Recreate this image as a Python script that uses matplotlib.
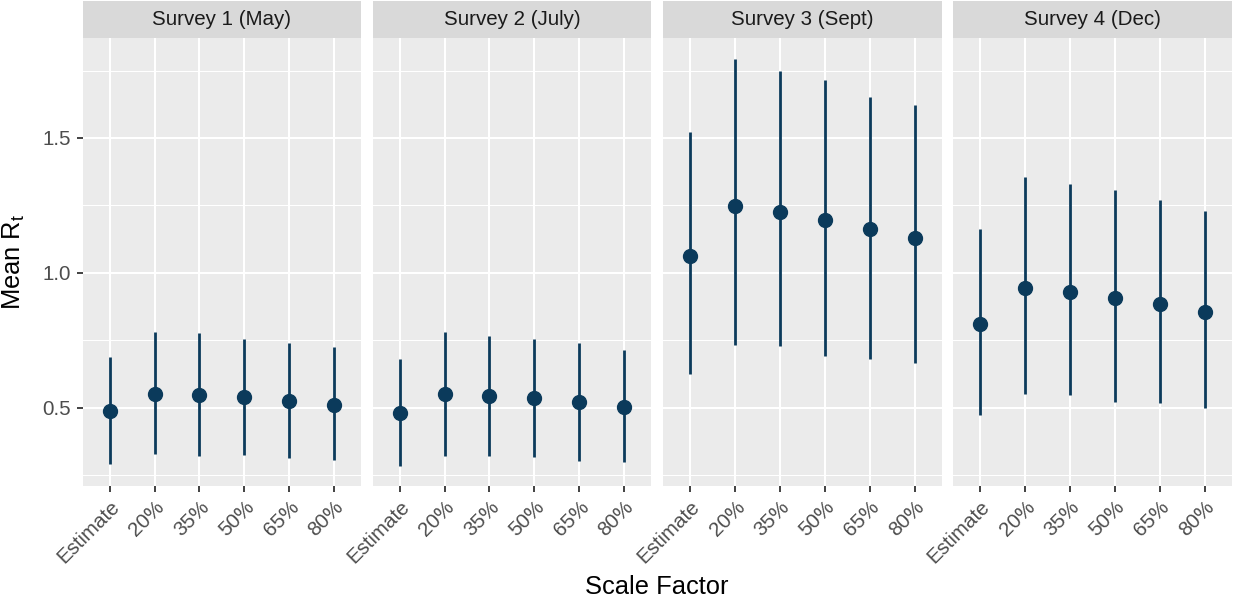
import numpy as np
import matplotlib
matplotlib.use("Agg")
import matplotlib.pyplot as plt

plt.rcParams['font.family'] = ['Liberation Sans', 'DejaVu Sans']
plt.rcParams['mathtext.default'] = 'regular'

categories = ["Estimate", "20%", "35%", "50%", "65%", "80%"]
surveys = ["Survey 1 (May)", "Survey 2 (July)", "Survey 3 (Sept)", "Survey 4 (Dec)"]

s1_mean = [0.489, 0.552, 0.548, 0.540, 0.525, 0.512]
s1_lo = [0.291, 0.330, 0.323, 0.324, 0.313, 0.306]
s1_hi = [0.690, 0.783, 0.777, 0.756, 0.741, 0.724]

s2_mean = [0.481, 0.552, 0.545, 0.536, 0.521, 0.505]
s2_lo = [0.286, 0.322, 0.322, 0.317, 0.302, 0.300]
s2_hi = [0.681, 0.782, 0.767, 0.755, 0.740, 0.715]

s3_mean = [1.063, 1.247, 1.225, 1.198, 1.164, 1.128]
s3_lo = [0.627, 0.734, 0.728, 0.692, 0.683, 0.667]
s3_hi = [1.522, 1.794, 1.748, 1.715, 1.653, 1.621]

s4_mean = [0.812, 0.943, 0.928, 0.909, 0.886, 0.855]
s4_lo = [0.473, 0.551, 0.546, 0.522, 0.519, 0.499]
s4_hi = [1.164, 1.354, 1.329, 1.307, 1.272, 1.231]

means = [s1_mean, s2_mean, s3_mean, s4_mean]
lows = [s1_lo, s2_lo, s3_lo, s4_lo]
highs = [s1_hi, s2_hi, s3_hi, s4_hi]

W, H = 1233, 600
fig = plt.figure(figsize=(W / 100, H / 100), dpi=100)

# shared y range, ggplot-style 5% expansion
ymin = min(min(l) for l in lows)
ymax = max(max(h) for h in highs)
pad = 0.05 * (ymax - ymin)
ylim = (ymin - pad, ymax + pad)

col = '#0b3a5b'
lefts = [82.7, 372.7, 663.3, 953.3]
pw = 278.3
ptop, pbot = 38.3, 486.0
strip_top = 1.0

x = np.arange(len(categories))
for i, left in enumerate(lefts):
    ax = fig.add_axes([left / W, (H - pbot) / H, pw / W, (pbot - ptop) / H])
    ax.set_facecolor('#EBEBEB')
    for s in ax.spines.values():
        s.set_visible(False)
    ax.set_xlim(-0.6, len(categories) - 0.4)
    ax.set_ylim(*ylim)
    ax.set_yticks([0.5, 1.0, 1.5])
    ax.set_yticks([0.25, 0.75, 1.25, 1.75], minor=True)
    ax.set_xticks(x)
    ax.set_xticklabels(categories, rotation=45, ha='right', va='top',
                       rotation_mode='anchor')
    ax.grid(True, which='major', color='white', lw=1.5)
    ax.grid(True, which='minor', axis='y', color='white', lw=0.75)
    ax.set_axisbelow(True)
    ax.tick_params(axis='both', which='major', length=4.6, width=1.3,
                   color='#333333', labelcolor='#4D4D4D', labelsize=14.8, pad=3.6)
    ax.tick_params(axis='both', which='minor', length=0)
    if i == 0:
        ax.set_yticklabels(['0.5', '1.0', '1.5'])
    else:
        ax.tick_params(axis='y', which='major', length=0, labelleft=False)

    m = np.array(means[i])
    ax.vlines(x, lows[i], highs[i], color=col, lw=2.0, zorder=3)
    ax.plot(x, m, 'o', color=col, ms=10, mec=col, zorder=4)

    sax = fig.add_axes([left / W, (H - ptop) / H, pw / W, (ptop - strip_top) / H])
    sax.set_facecolor('#D9D9D9')
    sax.set_xticks([])
    sax.set_yticks([])
    for s in sax.spines.values():
        s.set_visible(False)
    sax.text(0.5, 0.5, surveys[i], ha='center', va='center', fontsize=14.8,
             color='#1A1A1A', transform=sax.transAxes)

fig.text(14 / W, 1 - (ptop + pbot) / 2 / H, 'Mean R$_t$', rotation=90,
         ha='center', va='center', fontsize=18.4, color='black')
fig.text((lefts[0] + lefts[-1] + pw) / 2 / W, 6 / H, 'Scale Factor',
         ha='center', va='baseline', fontsize=18.4, color='black')

plt.savefig('out.png', dpi=100)
plt.close()
